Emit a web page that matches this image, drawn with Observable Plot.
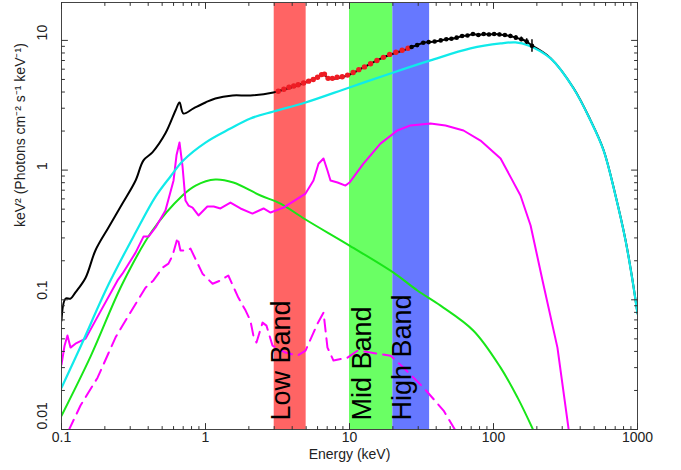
<!DOCTYPE html>
<html><head><meta charset="utf-8">
<script src="https://cdn.jsdelivr.net/npm/d3@7"></script>
<script src="https://cdn.jsdelivr.net/npm/@observablehq/plot@0.6"></script>
<style>body{margin:0;background:#fff} #chart svg{display:block}</style>
</head><body><div id="chart"></div>
<script>
// ---- data (energy in keV, flux in keV^2 Photons cm^-2 s^-1 keV^-1) ----
const bandNames = ["Low Band", "Mid Band", "High Band"];
const bandLo = [3, 10, 20];
const bandHi = [5, 20, 36];

const xTicks = [0.1, 1, 10, 100, 1000];
const xTickLabels = ["0.1", "1", "10", "100", "1000"];
const yTicks = [0.01, 0.1, 1, 10];
const yTickLabels = ["0.01", "0.1", "1", "10"];

// total model (black line), low-energy part
const totalLowE = [0.1, 0.1066, 0.1155, 0.125, 0.147, 0.172, 0.212, 0.265, 0.327, 0.371, 0.428, 0.527, 0.619, 0.66, 0.703, 0.826, 1.0, 1.17, 1.54, 2.05, 2.96, 3.3, 4.95, 6.29, 6.6, 7.14, 9.7, 12.5, 17.2, 25.7];
const totalLowV = [0.069, 0.102, 0.102, 0.114, 0.148, 0.24, 0.361, 0.552, 0.832, 1.19, 1.37, 1.92, 2.88, 3.32, 2.73, 2.99, 3.32, 3.57, 3.76, 3.76, 3.97, 4.1, 4.74, 5.37, 5.56, 5.09, 5.37, 6.19, 7.39, 8.67];
// total model, high-energy tail
const totalHighE = [185, 249, 360, 472, 581, 703, 826, 923, 1000];
const totalHighV = [9.1, 7.3, 4.28, 2.42, 1.43, 0.64, 0.288, 0.142, 0.0785];

// red data points (3-26 keV)
const redE = [3.2, 3.5, 3.8, 4.1, 4.4, 4.8, 5.2, 5.6, 6.0, 6.4, 6.7, 7.1, 7.6, 8.2, 8.9, 9.7, 10.6, 11.6, 12.7, 14.0, 15.5, 17.2, 19.0, 21.0, 23.2, 25.5];
const redV = [4.05, 4.2, 4.35, 4.45, 4.55, 4.7, 4.85, 5.0, 5.2, 5.45, 5.5, 5.1, 5.1, 5.2, 5.25, 5.4, 5.65, 5.95, 6.25, 6.6, 7.0, 7.4, 7.8, 8.1, 8.4, 8.7];

// black data points (27-185 keV)
const blackE = [27, 29.5, 32.5, 35.5, 39, 43, 47, 51, 55.5, 60.5, 66, 72, 78.5, 85.5, 93, 101, 110, 120, 131, 143, 156, 170, 185];
const blackV = [8.9, 9.2, 9.6, 9.7, 9.8, 10.0, 10.2, 10.3, 10.5, 10.8, 10.9, 11.2, 11.0, 11.2, 11.1, 11.2, 11.1, 11.0, 10.8, 10.5, 10.2, 9.8, 9.1];
const blackErr = [0.12, 0.12, 0.13, 0.13, 0.14, 0.15, 0.15, 0.16, 0.17, 0.18, 0.2, 0.2, 0.22, 0.24, 0.25, 0.27, 0.3, 0.32, 0.35, 0.38, 0.42, 0.5, 1.0];

// cyan component
const cyanE = [0.1, 0.1355, 0.212, 0.327, 0.45, 0.571, 0.703, 1.0, 1.49, 2.05, 2.97, 4.95, 10, 20.2, 36.5, 69.2, 112, 142, 175, 249, 360, 472, 581, 703, 826, 923, 1000];
const cyanV = [0.021, 0.0435, 0.131, 0.33, 0.625, 0.893, 1.19, 1.63, 2.09, 2.5, 2.83, 3.32, 4.34, 5.66, 7.01, 8.67, 9.48, 9.66, 9.15, 7.26, 4.26, 2.41, 1.42, 0.637, 0.286, 0.141, 0.078];

// green component
const greenE = [0.1, 0.159, 0.265, 0.428, 0.692, 0.853, 1.17, 1.56, 2.41, 3.32, 4.95, 10, 20.2, 29.6, 42.9, 72.6, 112, 147, 187];
const greenV = [0.01277, 0.0365, 0.133, 0.342, 0.637, 0.76, 0.846, 0.802, 0.637, 0.552, 0.416, 0.262, 0.162, 0.118, 0.0902, 0.0578, 0.03, 0.0176, 0.01014];

// magenta solid component
const magE = [0.1, 0.105, 0.11, 0.1155, 0.125, 0.147, 0.172, 0.245, 0.265, 0.327, 0.371, 0.402, 0.45, 0.527, 0.6, 0.629, 0.66, 0.692, 0.726, 0.762, 0.813, 0.894, 1.03, 1.14, 1.27, 1.49, 1.75, 2.12, 2.53, 2.83, 3.48, 4.95, 5.62, 6.09, 6.6, 7.03, 7.38, 8.26, 9.38, 10, 12.5, 16.4, 21.5, 26.5, 36.5, 46.4, 61.9, 81.2, 112, 154, 181, 219, 278, 332];
const magV = [0.0316, 0.0443, 0.053, 0.0428, 0.0459, 0.0502, 0.0691, 0.141, 0.159, 0.231, 0.307, 0.307, 0.361, 0.488, 0.832, 1.3, 1.63, 1.08, 0.582, 0.533, 0.514, 0.447, 0.524, 0.524, 0.506, 0.562, 0.506, 0.462, 0.506, 0.471, 0.514, 0.659, 0.832, 1.12, 1.23, 0.993, 0.832, 0.802, 0.76, 0.802, 1.12, 1.6, 2.02, 2.21, 2.29, 2.21, 2.02, 1.69, 1.23, 0.637, 0.374, 0.141, 0.0428, 0.01014];

// magenta dashed component
const dashE = [0.112, 0.1355, 0.178, 0.237, 0.27, 0.383, 0.435, 0.503, 0.553, 0.59, 0.64, 0.67, 0.75, 0.787, 0.953, 1.12, 1.27, 1.44, 1.69, 1.9, 2.05, 2.15, 2.26, 2.49, 2.65, 2.92, 3.59, 4.36, 4.95, 6.0, 6.6, 7.03, 7.74, 9.68, 11.4, 14.0, 19.3, 23.7, 32.7, 45.0, 54.5];
const dashV = [0.0098, 0.0153, 0.0251, 0.0511, 0.0655, 0.124, 0.141, 0.177, 0.19, 0.219, 0.302, 0.24, 0.24, 0.248, 0.159, 0.133, 0.141, 0.154, 0.104, 0.0826, 0.0691, 0.053, 0.0468, 0.0667, 0.0632, 0.0443, 0.0392, 0.0371, 0.0406, 0.0655, 0.0796, 0.0428, 0.034, 0.0358, 0.0406, 0.0392, 0.0371, 0.03, 0.021, 0.014, 0.0098];

const yLabel = "keV\u00B2 (Photons cm\u207B\u00B2 s\u207B\u00B9 keV\u207B\u00B9)";
const xLabel = "Energy (keV)";

// ---- tables built from the arrays ----
const zip = (E, V) => E.map((e, i) => ({e, v: V[i]}));
const bands = bandNames.map((name, i) => ({name, lo: bandLo[i], hi: bandHi[i]}));
const blackData = blackE.map((e, i) => ({e, v: blackV[i], lo: blackV[i] - blackErr[i], hi: blackV[i] + blackErr[i]}));
const totalLine = [...zip(totalLowE, totalLowV), ...zip(blackE, blackV), ...zip(totalHighE, totalHighV)];
const minorOf = (lo, hi) => { const out = []; for (let p = lo; p < hi; p++) for (let m = 2; m <= 9; m++) out.push(m * Math.pow(10, p)); return out; };
const xMinor = minorOf(-1, 3);
const yMinor = minorOf(-2, 2).filter(v => v < 19.6);

const Y0 = 0.01, Y1 = 19.6;
const W = 681, H = 470, ML = 61, MR = 44, MT = 2, MB = 41;
const bandFills = ["#ff6464", "#6aff64", "#6678ff"];
const axisStroke = "#333";
const font = "Liberation Sans, Arial, Helvetica, sans-serif";

// inward ticks, drawn as short plain vectors anchored at each frame edge
const lineShape = {draw(ctx, l) { ctx.moveTo(0, 0); ctx.lineTo(0, -l); }};
const tickVec = (opts, s) => ({...opts, length: s, anchor: "start", shape: lineShape, stroke: axisStroke, strokeWidth: 1});
const ticksBottom = (t, s) => Plot.vector(t, tickVec({x: d => d, frameAnchor: "bottom", rotate: 0}, s));
const ticksTop = (t, s) => Plot.vector(t, tickVec({x: d => d, frameAnchor: "top", rotate: 180}, s));
const ticksLeft = (t, s) => Plot.vector(t, tickVec({y: d => d, frameAnchor: "left", rotate: 90}, s));
const ticksRight = (t, s) => Plot.vector(t, tickVec({y: d => d, frameAnchor: "right", rotate: -90}, s));

const chart = Plot.plot({
  width: W, height: H,
  marginLeft: ML, marginRight: MR, marginTop: MT, marginBottom: MB,
  x: {type: "log", domain: [0.1, 1000], axis: null},
  y: {type: "log", domain: [Y0, Y1], axis: null},
  style: {fontFamily: font, fontSize: "14px", background: "white", color: "#222"},
  marks: [
    ...bands.map((b, i) => Plot.rect([b], {x1: "lo", x2: "hi", y1: () => Y0, y2: () => Y1, fill: bandFills[i]})),
    Plot.line(zip(greenE, greenV), {x: "e", y: "v", stroke: "#18e618", strokeWidth: 2, curve: "catmull-rom", clip: true}),
    Plot.line(zip(dashE, dashV), {x: "e", y: "v", stroke: "#ff00ff", strokeWidth: 2, strokeDasharray: "12,7", clip: true}),
    Plot.line(zip(magE, magV), {x: "e", y: "v", stroke: "#ff00ff", strokeWidth: 2, clip: true}),
    Plot.line(totalLine, {x: "e", y: "v", stroke: "#000", strokeWidth: 2, curve: "catmull-rom", clip: true}),
    Plot.line(zip(cyanE, cyanV), {x: "e", y: "v", stroke: "#10eaea", strokeWidth: 2.2, curve: "catmull-rom", clip: true}),
    Plot.dot(zip(redE, redV), {x: "e", y: "v", r: 2.7, fill: "#ee1c24"}),
    Plot.ruleX(blackData, {x: "e", y1: "lo", y2: "hi", stroke: "#000", strokeWidth: 1.5}),
    Plot.dot(blackData, {x: "e", y: "v", r: 2.3, fill: "#000"}),
    Plot.text(bands, {x: d => Math.sqrt(d.lo * d.hi), text: "name", frameAnchor: "bottom", dy: -9, rotate: -90, textAnchor: "start", fontSize: 27, fill: "#000"}),
    Plot.frame({stroke: "#444", strokeWidth: 1}),
    ticksBottom(xTicks, 6), ticksBottom(xMinor, 3),
    ticksTop(xTicks, 6), ticksTop(xMinor, 3),
    ticksLeft(yTicks, 6), ticksLeft(yMinor, 3),
    ticksRight(yTicks, 6), ticksRight(yMinor, 3),
    Plot.text(xTicks, {x: d => d, text: (d, i) => xTickLabels[i], frameAnchor: "bottom", dy: 12, fontSize: 14, fill: "#222"}),
    Plot.text(yTicks, {y: d => d, text: (d, i) => yTickLabels[i], frameAnchor: "left", dx: -19, rotate: -90, fontSize: 14, fill: "#222"}),
    Plot.text([xLabel], {text: d => d, frameAnchor: "bottom", dy: 29, fontSize: 14, fill: "#222"}),
    Plot.text([yLabel], {text: d => d, frameAnchor: "left", dx: -41, dy: 11, rotate: -90, fontSize: 14, fill: "#222"})
  ]
});
document.getElementById("chart").append(chart);
</script>
</body></html>
